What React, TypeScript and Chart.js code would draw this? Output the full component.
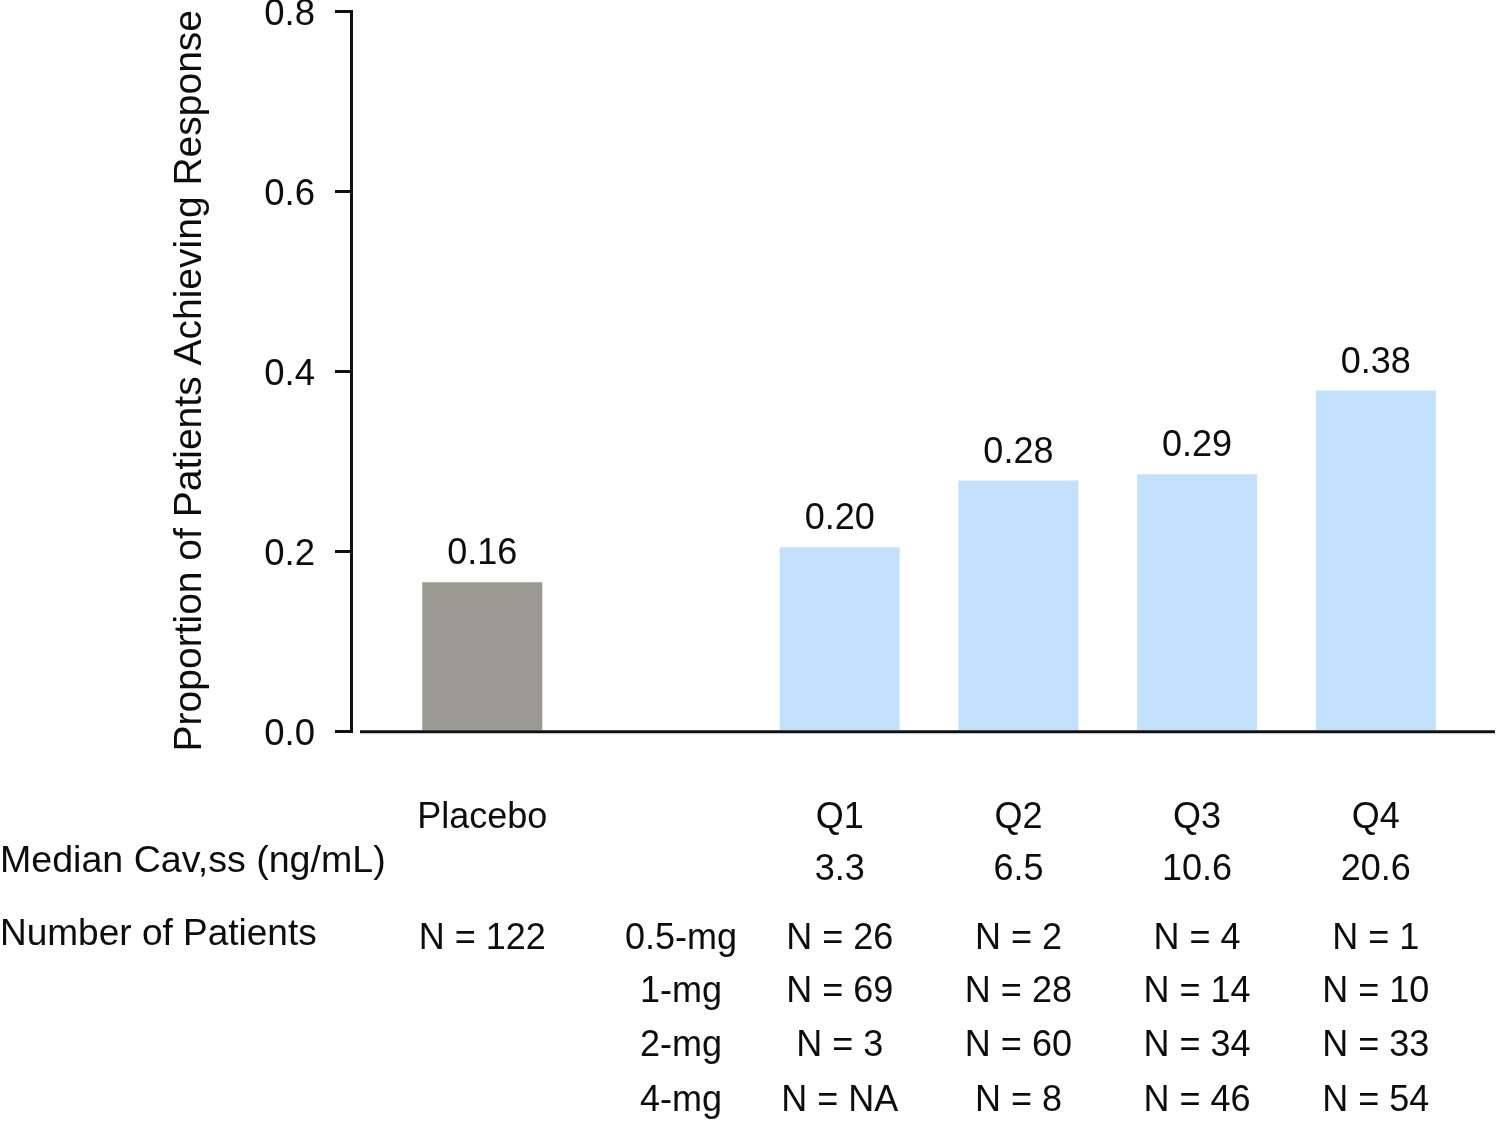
import React, { useEffect, useRef } from "react";
import { Chart, registerables } from "chart.js";

Chart.register(...registerables);

// ---------- data ----------
const categories = ["Placebo", "", "Q1", "Q2", "Q3", "Q4"];
const proportions = [0.166, null, 0.205, 0.279, 0.286, 0.379];
const valueLabels = ["0.16", "", "0.20", "0.28", "0.29", "0.38"];
const barColors = ["#9a9a92", "#ffffff", "#c3e1fc", "#c3e1fc", "#c3e1fc", "#c3e1fc"];
const yTickLabels = ["0.0", "0.2", "0.4", "0.6", "0.8"];
const medianCav = ["", "", "3.3", "6.5", "10.6", "20.6"];
const doseLabels = ["0.5-mg", "1-mg", "2-mg", "4-mg"];
const placeboPatients = "N = 122";
const patients05mg = ["N = 26", "N = 2", "N = 4", "N = 1"];
const patients1mg = ["N = 69", "N = 28", "N = 14", "N = 10"];
const patients2mg = ["N = 3", "N = 60", "N = 34", "N = 33"];
const patients4mg = ["N = NA", "N = 8", "N = 46", "N = 54"];
const yTitle = "Proportion of Patients Achieving Response";
const medianRowLabel = "Median Cav,ss (ng/mL)";
const patientsRowLabel = "Number of Patients";

// ---------- styles ----------
const FONT = '"Liberation Sans", Arial, Helvetica, sans-serif';
const TEXT = "#0d0d0d";
const AXIS = "#111111";

const overlayPlugin = {
  id: "overlay",
  afterDatasetsDraw(chart: any) {
    const ctx = chart.ctx as CanvasRenderingContext2D;
    const area = chart.chartArea;
    const xs = chart.scales.x;
    ctx.save();
    // x axis line (starts slightly right of y axis)
    ctx.strokeStyle = AXIS;
    ctx.lineWidth = 3;
    ctx.beginPath();
    ctx.moveTo(area.left + 9, area.bottom);
    ctx.lineTo(area.right, area.bottom);
    ctx.stroke();

    // y axis title
    ctx.save();
    ctx.fillStyle = TEXT;
    ctx.font = `39px ${FONT}`;
    ctx.textAlign = "center";
    ctx.textBaseline = "middle";
    ctx.translate(190, (area.top + area.bottom) / 2 + 9);
    ctx.rotate(-Math.PI / 2);
    ctx.fillText(yTitle, 0, 0);
    ctx.restore();

    // value labels above bars
    ctx.fillStyle = TEXT;
    ctx.font = `36px ${FONT}`;
    ctx.textAlign = "center";
    ctx.textBaseline = "alphabetic";
    const meta = chart.getDatasetMeta(0);
    valueLabels.forEach((lbl, i) => {
      if (!lbl) return;
      const bar = meta.data[i];
      ctx.fillText(lbl, bar.x, bar.y - 18);
    });

    // table below
    const cx = (i: number) => xs.getPixelForValue(i);
    categories.forEach((c, i) => {
      if (c) ctx.fillText(c, cx(i), 828);
    });
    medianCav.forEach((v, i) => {
      if (v) ctx.fillText(v, cx(i), 880);
    });
    ctx.fillText(placeboPatients, cx(0), 949);
    const rows = [patients05mg, patients1mg, patients2mg, patients4mg];
    const rowY = [949, 1002, 1056, 1111];
    rows.forEach((row, r) => {
      ctx.fillText(doseLabels[r], cx(1) + 20, rowY[r]);
      row.forEach((v, k) => ctx.fillText(v, cx(k + 2), rowY[r]));
    });
    ctx.textAlign = "left";
    ctx.font = `37.6px ${FONT}`;
    ctx.fillText(medianRowLabel, 0, 872);
    ctx.font = `37px ${FONT}`;
    ctx.fillText(patientsRowLabel, 0, 945);
    ctx.restore();
  },
};

export default function App() {
  const ref = useRef<HTMLCanvasElement>(null);
  useEffect(() => {
    const points = categories.map((_, i) => ({ x: i, y: proportions[i] }));
    const chart = new Chart(ref.current as HTMLCanvasElement, {
      type: "bar",
      data: {
        datasets: [
          {
            data: points as any,
            backgroundColor: barColors,
            borderWidth: 0,
            barPercentage: 0.6715,
            categoryPercentage: 1,
          },
        ],
      },
      options: {
        animation: false,
        responsive: false,
        devicePixelRatio: 1,
        layout: { padding: { left: 163, top: 11.7, right: 4, bottom: 390.3 } },
        plugins: { legend: { display: false }, tooltip: { enabled: false } },
        scales: {
          x: {
            type: "linear",
            display: false,
            offset: false,
            min: -0.7347,
            max: 5.667,
            ticks: { stepSize: 1, includeBounds: false },
          },
          y: {
            type: "linear",
            min: 0,
            max: 0.8,
            afterFit: (s: any) => {
              s.width = 188;
              s.paddingTop = 0;
              s.paddingBottom = 0;
            },
            ticks: {
              stepSize: 0.2,
              padding: 20,
              labelOffset: 3,
              color: TEXT,
              font: { family: FONT, size: 36.5 },
              callback: (_v: any, i: number) => yTickLabels[i],
            },
            grid: {
              display: true,
              drawOnChartArea: false,
              drawTicks: true,
              tickLength: 16,
              color: AXIS,
              lineWidth: 3,
            },
            border: { display: true, color: AXIS, width: 3 },
            title: { display: false },
          },
        },
      },
      plugins: [overlayPlugin],
    });
    return () => chart.destroy();
  }, []);
  return (
    <div style={{ position: "absolute", left: 0, top: 0, width: 1499, height: 1122, background: "#fff" }}>
      <canvas ref={ref} width={1499} height={1122} style={{ display: "block" }} />
    </div>
  );
}
